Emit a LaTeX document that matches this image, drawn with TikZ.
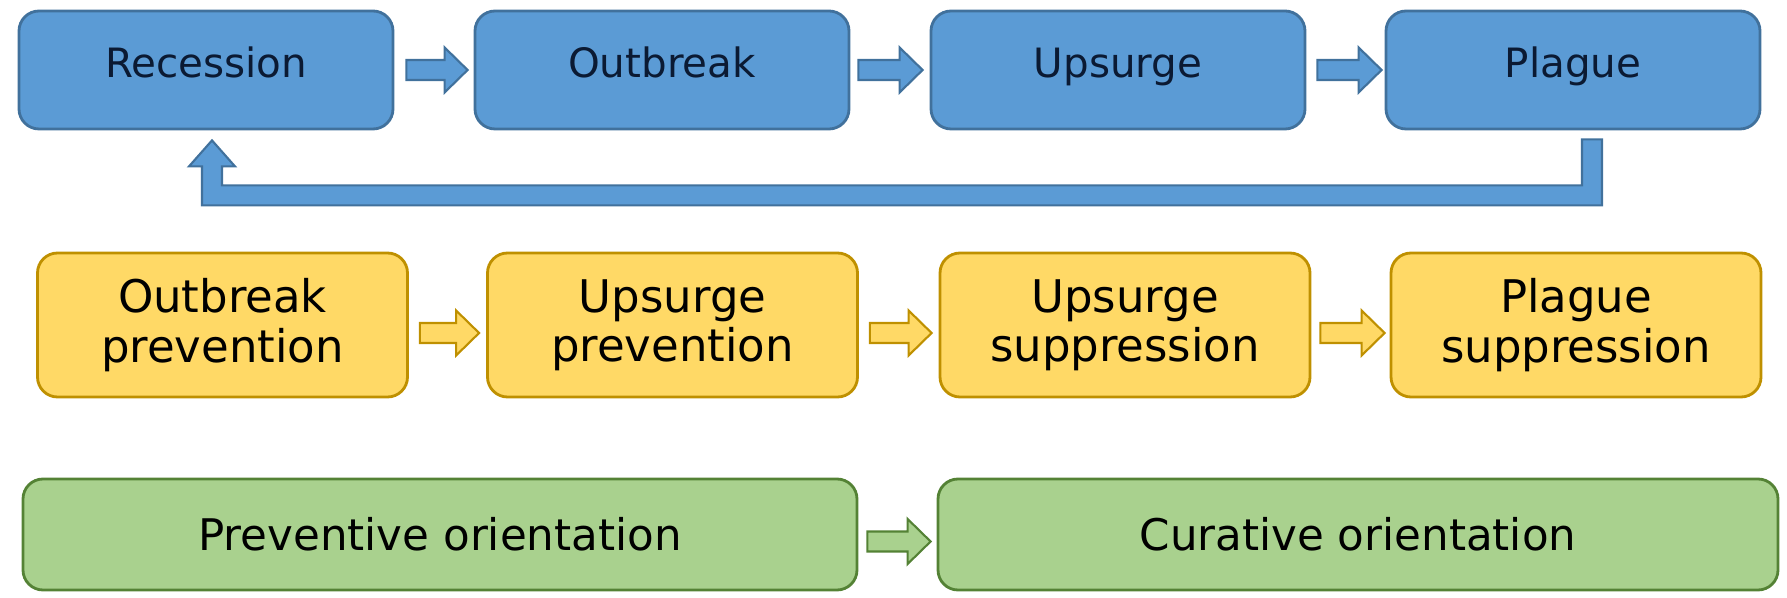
\documentclass[tikz,border=0pt]{standalone}
\usepackage{fontspec}
\setmainfont{DejaVu Sans}
\usetikzlibrary{calc}
\definecolor{bluefill}{HTML}{5B9BD5}
\definecolor{blueline}{HTML}{41719C}
\definecolor{bluetext}{HTML}{0B1A33}
\definecolor{goldfill}{HTML}{FFD966}
\definecolor{goldline}{HTML}{BF9000}
\definecolor{greenfill}{HTML}{A9D18E}
\definecolor{greenline}{HTML}{548235}
\newcommand{\harrow}[3]{%
\draw[#1] let \p1=#2, \p2=#3 in
 (\x1,\y1-0.1cm)--(\x2-0.23cm,\y1-0.1cm)--(\x2-0.23cm,\y1-0.225cm)--(\x2,\y1)
 --(\x2-0.23cm,\y1+0.225cm)--(\x2-0.23cm,\y1+0.1cm)--(\x1,\y1+0.1cm)--cycle;}
\begin{document}
\begin{tikzpicture}[
 stage/.style={draw=blueline,fill=bluefill,text=bluetext,line width=0.8pt,rounded corners=0.2cm,minimum width=3.74cm,minimum height=1.18cm,
  font=\fontsize{11.5}{14}\selectfont,text height=0.36cm,text depth=0.2cm},
 act/.style={draw=goldline,fill=goldfill,line width=0.8pt,rounded corners=0.2cm,minimum width=3.7cm,minimum height=1.44cm,align=center,
  font=\fontsize{12.8}{14}\selectfont},
 orient/.style={draw=greenline,fill=greenfill,line width=0.8pt,rounded corners=0.2cm,minimum height=1.11cm,
  font=\fontsize{12.4}{14}\selectfont},
 barrow/.style={draw=blueline,fill=bluefill,line width=0.6pt,line join=miter},
 garrow/.style={draw=goldline,fill=goldfill,line width=0.6pt,line join=miter},
 grarrow/.style={draw=greenline,fill=greenfill,line width=0.6pt,line join=miter}]
\useasboundingbox(0,0)rectangle(17.87,5.98);
%
\node[stage](rec)at(2.06,5.28){Recession};
\node[stage](outb)at(6.62,5.28){Outbreak};
\node[stage](ups)at(11.18,5.28){Upsurge};
\node[stage](plg)at(15.73,5.28){Plague};
%
\node[act](outbprev)at(2.225,2.73){Outbreak\\prevention};
\node[act](upsprev)at(6.725,2.73){Upsurge\\prevention};
\node[act](upssupp)at(11.25,2.73){Upsurge\\suppression};
\node[act](plgsupp)at(15.76,2.73){Plague\\suppression};
%
\node[orient,minimum width=8.34cm](prev)at(4.40,0.635){Preventive orientation};
\node[orient,minimum width=8.40cm](cur)at(13.58,0.635){Curative orientation};
%
\harrow{barrow}{($(rec.east)+(0.12,0)$)}{($(outb.west)+(-0.06,0)$)}
\harrow{barrow}{($(outb.east)+(0.08,0)$)}{($(ups.west)+(-0.07,0)$)}
\harrow{barrow}{($(ups.east)+(0.11,0)$)}{($(plg.west)+(-0.03,0)$)}
%
\harrow{garrow}{($(outbprev.east)+(0.11,-0.08)$)}{($(upsprev.west)+(-0.07,-0.08)$)}
\harrow{garrow}{($(upsprev.east)+(0.11,-0.08)$)}{($(upssupp.west)+(-0.07,-0.08)$)}
\harrow{garrow}{($(upssupp.east)+(0.09,-0.08)$)}{($(plgsupp.west)+(-0.05,-0.08)$)}
%
\harrow{grarrow}{($(prev.east)+(0.09,-0.07)$)}{($(cur.west)+(-0.06,-0.07)$)}
%
\draw[barrow]let \p1=($(rec.south)+(0.06,0)$),\p2=($(plg.south)+(0.19,0)$)in
 (\x2-0.1cm,\y2-0.09cm)--(\x2+0.1cm,\y2-0.09cm)--(\x2+0.1cm,\y2-0.75cm)
 --(\x1-0.1cm,\y2-0.75cm)--(\x1-0.1cm,\y1-0.36cm)--(\x1-0.23cm,\y1-0.36cm)
 --(\x1,\y1-0.1cm)--(\x1+0.23cm,\y1-0.36cm)--(\x1+0.1cm,\y1-0.36cm)
 --(\x1+0.1cm,\y2-0.55cm)--(\x2-0.1cm,\y2-0.55cm)--cycle;
\end{tikzpicture}
\end{document}
